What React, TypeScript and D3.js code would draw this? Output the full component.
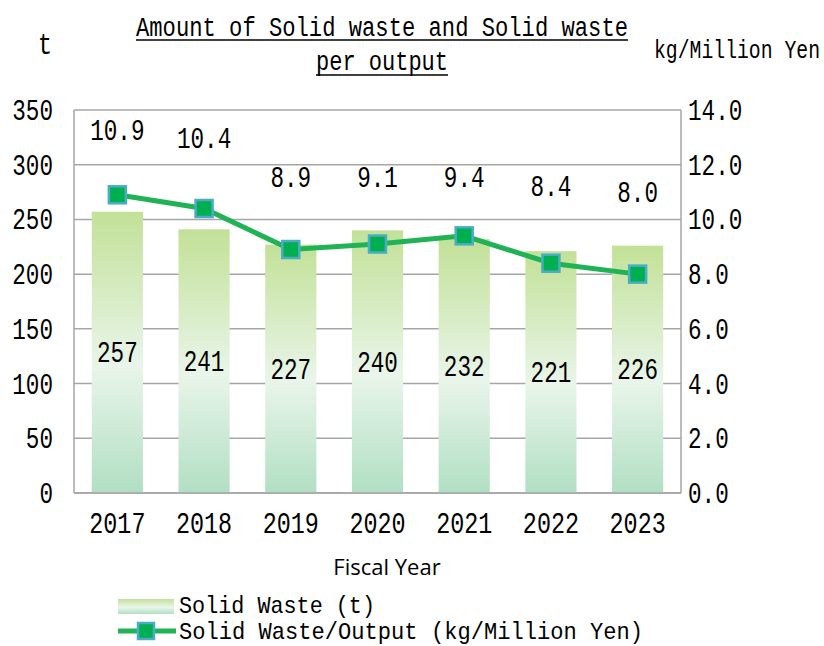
import React from "react";
import * as d3 from "d3";

const years = ["2017", "2018", "2019", "2020", "2021", "2022", "2023"];
const solidWaste = [257, 241, 227, 240, 232, 221, 226];
const wastePerOutput = [10.9, 10.4, 8.9, 9.1, 9.4, 8.4, 8.0];
const leftTicks = [0, 50, 100, 150, 200, 250, 300, 350];
const rightTicks = [0, 2, 4, 6, 8, 10, 12, 14];

// layout: baseline of each line label, expressed in right-axis units
const lineLabelAt = [12.9, 12.6, 11.2, 11.2, 11.2, 10.85, 10.65];

const W = 824;
const H = 646;
const M = { left: 74, right: 681, top: 110, bottom: 493 };
const FONT = "'Liberation Mono', 'DejaVu Sans Mono', monospace";

function ST(props: {
  x: number;
  y: number;
  size: number;
  sx?: number;
  anchor?: "start" | "middle" | "end";
  len?: number;
  children: React.ReactNode;
}) {
  const { x, y, size, sx = 0.78, anchor = "start", len, children } = props;
  return (
    <text
      transform={`translate(${x},${y}) scale(${sx},1)`}
      textAnchor={anchor}
      fontSize={size}
      fill="#000"
      textLength={len ? len / sx : undefined}
      lengthAdjust={len ? "spacingAndGlyphs" : undefined}
    >
      {children}
    </text>
  );
}

export default function App() {
  const x = d3.scaleBand<string>().domain(years).range([M.left, M.right]).padding(0);
  const yL = d3.scaleLinear().domain([0, 350]).range([M.bottom, M.top]);
  const yR = d3.scaleLinear().domain([0, 14]).range([M.bottom, M.top]);
  const barW = x.bandwidth() * 0.59;
  const cx = (d: string) => (x(d) as number) + x.bandwidth() / 2;

  const line = d3
    .line<number>()
    .x((_, i) => cx(years[i]))
    .y((v) => yR(v));

  const ms = 17;

  return (
    <svg
      width={W}
      height={H}
      style={{ position: "absolute", left: 0, top: 0, background: "#fff" }}
      fontFamily={FONT}
    >
      <defs>
        <linearGradient id="barGrad" x1="0" y1="0" x2="0" y2="1">
          <stop offset="0%" stopColor="#c2e197" />
          <stop offset="55%" stopColor="#e9f5ea" />
          <stop offset="100%" stopColor="#b1dfc3" />
        </linearGradient>
        <linearGradient id="legGrad" x1="0" y1="0" x2="0" y2="1">
          <stop offset="0%" stopColor="#c2e197" />
          <stop offset="55%" stopColor="#e9f5ea" />
          <stop offset="100%" stopColor="#b1dfc3" />
        </linearGradient>
      </defs>

      {/* Title */}
      <ST x={136} y={36} size={28} len={492}>Amount of Solid waste and Solid waste</ST>
      <line x1={136} x2={628} y1={40} y2={40} stroke="#000" strokeWidth={1.5} />
      <ST x={316} y={70} size={28} len={132}>per output</ST>
      <line x1={316} x2={448} y1={75} y2={75} stroke="#000" strokeWidth={1.5} />

      {/* Axis units */}
      <ST x={45} y={54} size={30} anchor="middle">t</ST>
      <ST x={654} y={58} size={26} len={166}>kg/Million Yen</ST>

      {/* Gridlines */}
      {leftTicks.map((t) => (
        <line key={"g" + t} x1={M.left} x2={M.right} y1={yL(t)} y2={yL(t)} stroke="#a6a6a6" strokeWidth={1.5} />
      ))}
      <line x1={M.left} x2={M.left} y1={M.top} y2={M.bottom} stroke="#a6a6a6" strokeWidth={1.5} />
      <line x1={M.right} x2={M.right} y1={M.top} y2={M.bottom} stroke="#a6a6a6" strokeWidth={1.5} />

      {/* Bars */}
      {years.map((yr, i) => (
        <rect
          key={"b" + yr}
          x={cx(yr) - barW / 2}
          y={yL(solidWaste[i])}
          width={barW}
          height={yL(0) - yL(solidWaste[i])}
          fill="url(#barGrad)"
        />
      ))}
      <line x1={M.left} x2={M.right} y1={M.bottom} y2={M.bottom} stroke="#a6a6a6" strokeWidth={1.5} />

      {/* Bar labels */}
      {years.map((yr, i) => (
        <ST key={"bl" + yr} x={cx(yr)} y={(yL(solidWaste[i]) + yL(0)) / 2 + 10} size={29} anchor="middle">
          {solidWaste[i]}
        </ST>
      ))}

      {/* Line */}
      <path d={line(wastePerOutput) || ""} fill="none" stroke="#20b356" strokeWidth={5} />
      {years.map((yr, i) => (
        <rect
          key={"m" + yr}
          x={cx(yr) - ms / 2}
          y={yR(wastePerOutput[i]) - ms / 2}
          width={ms}
          height={ms}
          fill="#00b050"
          stroke="#4bacc6"
          strokeWidth={2.5}
        />
      ))}

      {/* Line labels */}
      {years.map((yr, i) => (
        <ST key={"ll" + yr} x={cx(yr)} y={yR(lineLabelAt[i])} size={29} anchor="middle">
          {wastePerOutput[i].toFixed(1)}
        </ST>
      ))}

      {/* Left ticks */}
      {leftTicks.map((t) => (
        <ST key={"lt" + t} x={53} y={yL(t) + 10} size={29} anchor="end">
          {t}
        </ST>
      ))}
      {/* Right ticks */}
      {rightTicks.map((t) => (
        <ST key={"rt" + t} x={688} y={yR(t) + 10} size={29} anchor="start">
          {t.toFixed(1)}
        </ST>
      ))}

      {/* X ticks */}
      {years.map((yr) => (
        <ST key={"xt" + yr} x={cx(yr)} y={533} size={30} anchor="middle">
          {yr}
        </ST>
      ))}

      <text x={387} y={575} textAnchor="middle" fontSize={22} fontFamily="'Open Sans', 'Noto Sans', sans-serif" fill="#000">
        Fiscal Year
      </text>

      {/* Legend */}
      <rect x={118} y={599} width={56} height={15} fill="url(#legGrad)" />
      <ST x={179} y={613} size={24} len={196}>Solid Waste (t)</ST>
      <line x1={118} x2={176} y1={631} y2={631} stroke="#20b356" strokeWidth={5} />
      <rect x={146 - 8} y={631 - 8} width={16} height={16} fill="#00b050" stroke="#4bacc6" strokeWidth={2.5} />
      <ST x={179} y={639} size={24} len={464}>Solid Waste/Output (kg/Million Yen)</ST>
    </svg>
  );
}
